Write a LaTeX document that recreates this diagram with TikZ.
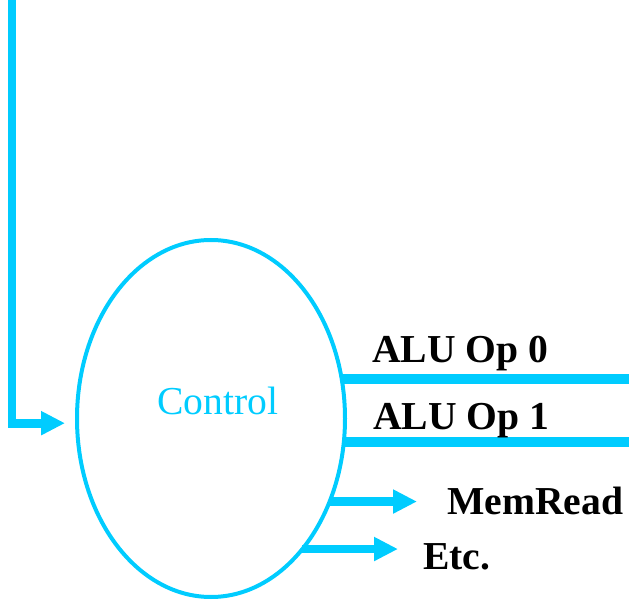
\documentclass[tikz,border=0pt]{standalone}
\usepackage{fontspec}
\setmainfont{Liberation Serif}
\usetikzlibrary{shapes.geometric,arrows.meta}
\definecolor{ctrlcyan}{RGB}{0,204,255}

\begin{document}
\begin{tikzpicture}[x=0.75pt,y=-0.75pt,
  wire/.style={ctrlcyan,line width=6.5pt},
  wirearrow/.style={wire,-{Triangle[length=18pt,width=17pt]}},
  bus/.style={ctrlcyan,line width=7.5pt},
  sigtext/.style={anchor=base west,inner sep=0pt,font=\fontsize{29.7}{32}\selectfont\bfseries}]
  \useasboundingbox (0,0) rectangle (629,602);
  \node[ellipse,draw=ctrlcyan,line width=3pt,outer sep=0pt,minimum width=201pt,minimum height=267.75pt] (ctrl) at (211,418.5) {};
  \node[anchor=base west,inner sep=0pt,text=ctrlcyan,font=\fontsize{29.7}{32}\selectfont] (ctrllabel) at (157,415) {Control};
  % input from above
  \coordinate (instart) at (12,-4);
  \draw[wirearrow,shorten >=9pt] (instart) |- (ctrl.182.35);
  % outputs
  \coordinate (aluzero) at (632,378);
  \coordinate (aluone) at (632,442);
  \coordinate (memtip) at (417,503);
  \coordinate (etctip) at (398,550);
  \draw[bus] (ctrl.17.24) -- (ctrl.17.24 -| aluzero);
  \draw[bus] (ctrl.-10.03) -- (ctrl.-10.03 -| aluone);
  \draw[wirearrow] (ctrl.-35.6) -- (ctrl.-35.6 -| memtip);
  \draw[wirearrow] (ctrl.-55.4) -- (ctrl.-55.4 -| etctip);
  \node[sigtext] (alu0) at (372,363) {ALU Op 0};
  \node[sigtext] (alu1) at (373,430) {ALU Op 1};
  \node[sigtext] (memread) at (447,514) {MemRead};
  \node[sigtext] (etc) at (423,570) {Etc.};
\end{tikzpicture}
\end{document}
